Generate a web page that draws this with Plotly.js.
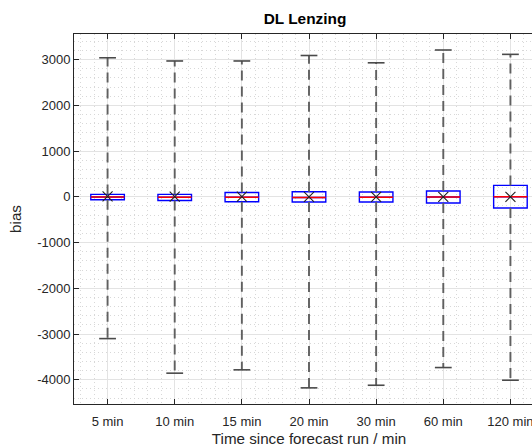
<!DOCTYPE html>
<html>
<head>
<meta charset="utf-8">
<script src="https://cdn.plot.ly/plotly-3.0.1.min.js"></script>
<style>html,body{margin:0;padding:0;background:#fff;overflow:hidden;width:532px;height:447px;}#chart{width:544px;height:447px;}</style>
</head>
<body>
<div id="chart"></div>
<script>
// ---- data ----
var categories = ["5 min", "10 min", "15 min", "20 min", "30 min", "60 min", "120 min"];
var upperWhisker = [3040, 2970, 2970, 3090, 2930, 3210, 3115];
var lowerWhisker = [-3100, -3856, -3783, -4177, -4120, -3733, -4010];
var q3Values = [53, 53, 96, 112, 105, 127, 250];
var q1Values = [-63, -80, -107, -114, -114, -136, -245];
var medianValues = [-5, -10, -10, -15, -10, -5, 0];
var meanValues = [10, 5, 5, 0, 0, 0, 0];
var yTickVals = [-4000, -3000, -2000, -1000, 0, 1000, 2000, 3000];
var yTickText = ["-4000", "-3000", "-2000", "-1000", "0", "1000", "2000", "3000"];

var pos = categories.map(function (c, i) { return i + 1; });
var boxHalf = 0.25, capHalf = 0.125;

// whiskers (dashed), built from the data arrays
var wx = [], wy = [];
pos.forEach(function (p, i) {
  wx.push(p, p, null, p, p, null);
  wy.push(q3Values[i], upperWhisker[i], null, q1Values[i], lowerWhisker[i], null);
});
// caps
var cx = [], cy = [];
pos.forEach(function (p, i) {
  cx.push(p - capHalf, p + capHalf, null, p - capHalf, p + capHalf, null);
  cy.push(upperWhisker[i], upperWhisker[i], null, lowerWhisker[i], lowerWhisker[i], null);
});
// medians
var mx = [], my = [];
pos.forEach(function (p, i) {
  mx.push(p - boxHalf, p + boxHalf, null);
  my.push(medianValues[i], medianValues[i], null);
});

var traces = [
  { type: 'scatter', mode: 'lines', x: wx, y: wy, hoverinfo: 'skip',
    line: { color: '#606060', width: 1.9, dash: '10px,6px' }, showlegend: false },
  { type: 'scatter', mode: 'lines', x: cx, y: cy, hoverinfo: 'skip',
    line: { color: '#4a4a4a', width: 1.6 }, showlegend: false },
  { type: 'box', x: pos, q1: q1Values, median: medianValues, q3: q3Values,
    lowerfence: q1Values, upperfence: q3Values, width: 0.5, whiskerwidth: 0,
    line: { color: '#0000ff', width: 1.4 }, fillcolor: 'rgba(0,0,0,0)',
    hoverinfo: 'skip', showlegend: false },
  { type: 'scatter', mode: 'lines', x: mx, y: my, hoverinfo: 'skip',
    line: { color: '#ff0000', width: 1.4 }, showlegend: false },
  { type: 'scatter', mode: 'markers', x: pos, y: meanValues, hoverinfo: 'skip',
    marker: { symbol: 'x-thin', size: 10, line: { color: '#222', width: 1.1 } }, showlegend: false }
];

var fontFam = 'Liberation Sans, Arial, Helvetica, sans-serif';
var layout = {
  width: 544, height: 447,
  paper_bgcolor: '#ffffff', plot_bgcolor: '#ffffff',
  margin: { l: 73.5, r: 0, t: 34.3, b: 42.7 },
  font: { family: fontFam, color: '#262626', size: 13 },
  title: { text: '<b>DL Lenzing</b>', font: { size: 15.4, color: '#000', family: fontFam },
           x: 305 / 544, xref: 'container', xanchor: 'center', y: 1 - 19 / 447, yanchor: 'middle', yref: 'container' },
  xaxis: {
    range: [0.5, 7.5], tickvals: pos, ticktext: categories,
    ticks: 'inside', ticklen: 5, tickcolor: '#262626', tickwidth: 1,
    showline: true, linecolor: '#262626', linewidth: 1, mirror: 'ticks',
    showgrid: true, gridcolor: '#e3e3e3', gridwidth: 1, zeroline: false,
    tickfont: { size: 13, color: '#262626' }, ticklabeloverflow: 'allow', ticklabelstandoff: 5,
    minor: { dtick: 0.2, tick0: 0, showgrid: true, gridcolor: '#d8d8d8', griddash: '1px,3px', gridwidth: 1, ticks: '' },
    title: { text: 'Time since forecast run / min', font: { size: 15.2, color: '#262626' }, standoff: 7 }
  },
  yaxis: {
    range: [-4530, 3560], tickvals: yTickVals, ticktext: yTickText,
    ticks: 'inside', ticklen: 5, tickcolor: '#262626', tickwidth: 1,
    showline: true, linecolor: '#262626', linewidth: 1, mirror: false,
    showgrid: true, gridcolor: '#e3e3e3', gridwidth: 1, zeroline: false,
    tickfont: { size: 13, color: '#262626' },
    minor: { dtick: 200, tick0: 0, showgrid: true, gridcolor: '#d8d8d8', griddash: '1px,3px', gridwidth: 1, ticks: '' },
    title: { text: 'bias', font: { size: 15.2, color: '#262626' }, standoff: 11 }
  }
};

Plotly.newPlot('chart', traces, layout, { staticPlot: true, displayModeBar: false });
</script>
</body>
</html>
